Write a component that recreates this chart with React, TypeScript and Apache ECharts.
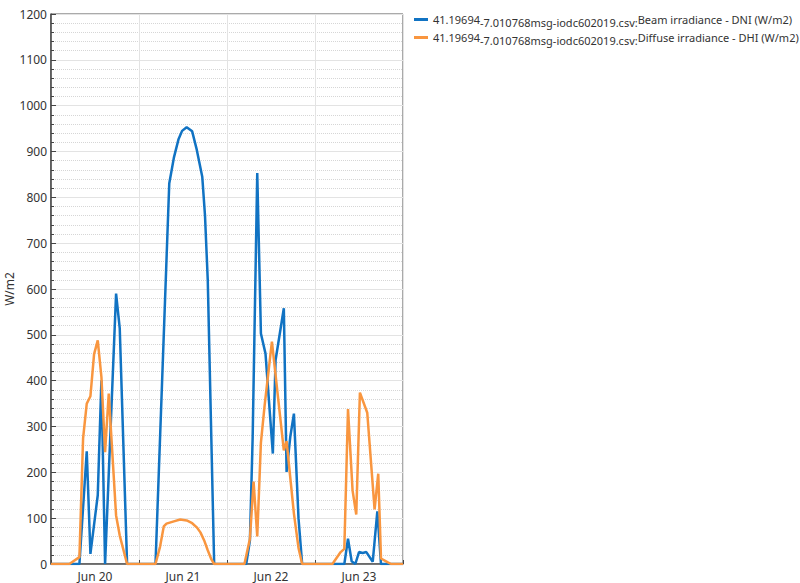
import React, { useEffect, useRef } from 'react';
import * as echarts from 'echarts';

// x values: hours since 20 Jun 00:00
const dayLabels = ['Jun 20', 'Jun 21', 'Jun 22', 'Jun 23'];

const dniTimes = [0, 7.75, 9.75, 10.75, 12.75, 13.75, 14.75, 17.75, 18.75, 20.75,
  28.5, 32.25, 33.5, 34.75, 35.75, 37, 38.5, 39.75, 41.25, 42, 42.75, 44.5,
  53.25, 54.25, 55, 56.25, 57.25, 58.5, 60.5, 61.25, 63.5, 64.25, 65.25, 66.25, 67.5, 68.5,
  80, 81, 82, 83, 84, 85, 86, 87.75, 89, 90, 96];
const dniValues = [0, 0, 246, 22, 150, 401, 0, 590, 514, 0,
  0, 830, 886, 926, 945, 953, 944, 904, 845, 760, 620, 0,
  0, 51, 277, 853, 503, 459, 241, 445, 558, 201, 277, 328, 100, 0,
  0, 55, 6, 0, 26, 24, 26, 5, 115, 0, 0];

const dhiTimes = [0, 5, 7.75, 8.75, 9.75, 10.75, 11.75, 12.75, 13.75, 14.75, 15.75, 17.75, 18.75, 20.75,
  28.5, 29.75, 30.75, 31.5, 33.5, 35.25, 37, 38.5, 39.75, 40.75, 41.75, 42.75, 43.75, 44.5,
  52.75, 54.25, 55.25, 56.25, 57.25, 58.25, 60.25, 63.5, 64.25, 66.25, 67.5, 68.5,
  76.75, 79, 80, 81, 82.25, 83.25, 84.25, 86.25, 88.25, 89.25, 90, 91.75, 92.75, 96];
const dhiValues = [0, 0, 15, 274, 350, 366, 458, 488, 408, 244, 372, 106, 62, 0,
  0, 38, 82, 88, 93, 97, 95, 89, 80, 69, 52, 30, 10, 0,
  0, 55, 180, 60, 265, 345, 485, 248, 268, 110, 35, 0,
  0, 26, 33, 338, 160, 108, 374, 330, 119, 197, 12, 4, 0, 0];

const sourcePrefix = '41.19694';
const sourceFile = '-7.010768msg-iodc602019.csv:';
const seriesLabels = ['Beam irradiance - DNI (W/m2)', 'Diffuse irradiance - DHI (W/m2)'];
const seriesNames = seriesLabels.map((l) => sourcePrefix + sourceFile + l);
const seriesColors = ['#1173c3', '#f9963f'];

const FONT = 'Noto Sans';

function zip(ts: number[], vs: number[]) {
  return ts.map((t, i) => [t, vs[i]]);
}

export default function App() {
  const ref = useRef<HTMLDivElement>(null);
  useEffect(() => {
    const chart = echarts.init(ref.current!, null, { renderer: 'svg' });
    const option: any = {
      animation: false,
      backgroundColor: '#fff',
      textStyle: { fontFamily: FONT },
      grid: {
        left: 51, top: 14, width: 352, height: 550,
        show: true, borderColor: '#555', borderWidth: 1, backgroundColor: 'transparent',
      },
      legend: {
        orient: 'vertical', left: 409, top: 6, itemWidth: 14, itemHeight: 3, itemGap: 1,
        icon: 'rect',
        data: seriesNames,
        formatter: (name: string) => {
          const i = seriesNames.indexOf(name);
          return `{a|${sourcePrefix}}{b|${sourceFile}}{a|${seriesLabels[i]}}`;
        },
        textStyle: {
          fontFamily: FONT,
          rich: {
            a: { fontFamily: FONT, fontSize: 11, lineHeight: 12, color: '#333', verticalAlign: 'middle' },
            b: { fontFamily: FONT, fontSize: 11, lineHeight: 12, color: '#333', padding: [6, 0, 0, 0], verticalAlign: 'middle' },
          },
        },
      },
      xAxis: [
        {
          type: 'value', min: 0, max: 96, interval: 12,
          axisLine: { show: true, lineStyle: { color: '#555', width: 1.5 } },
          axisTick: { show: false },
          splitLine: { show: false },
          axisLabel: {
            color: '#333', fontSize: 12, margin: 6, fontFamily: FONT,
            formatter: (v: number) => (v % 24 === 12 ? dayLabels[Math.floor(v / 24)] : ''),
          },
        },
        {
          type: 'value', min: 0, max: 96, interval: 24, position: 'bottom',
          axisLine: { show: false },
          axisLabel: { show: false },
          axisTick: { show: true, inside: true, length: 4, lineStyle: { color: '#444' } },
          splitLine: { show: true, lineStyle: { color: '#e3e3e3', width: 1 } },
        },
      ],
      yAxis: {
        type: 'value', min: 0, max: 1200, interval: 100,
        name: 'W/m2', nameLocation: 'middle', nameGap: 34,
        nameTextStyle: { color: '#333', fontSize: 12, fontFamily: FONT },
        axisLine: { show: true, lineStyle: { color: '#444', width: 1.5 } },
        axisTick: { show: true, inside: true, length: 5, lineStyle: { color: '#444' } },
        minorTick: { show: true, splitNumber: 5, length: 3, lineStyle: { color: '#444' } },
        axisLabel: {
          color: '#333', fontSize: 12, margin: 4, fontFamily: FONT,
          formatter: (v: number) => String(v),
        },
        splitLine: { show: true, lineStyle: { color: '#e3e3e3', width: 1 } },
        minorSplitLine: { show: true, lineStyle: { color: '#d6d6d6', type: 'dotted', width: 1 } },
      },
      series: [
        {
          name: seriesNames[0], type: 'line', xAxisIndex: 0, showSymbol: false,
          data: zip(dniTimes, dniValues),
          lineStyle: { color: seriesColors[0], width: 2.5 },
          itemStyle: { color: seriesColors[0] },
        },
        {
          name: seriesNames[1], type: 'line', xAxisIndex: 0, showSymbol: false,
          data: zip(dhiTimes, dhiValues),
          lineStyle: { color: seriesColors[1], width: 2.5 },
          itemStyle: { color: seriesColors[1] },
        },
      ],
    };
    chart.setOption(option);
    return () => chart.dispose();
  }, []);
  return (
    <div
      ref={ref}
      style={{ position: 'absolute', left: 0, top: 0, width: 800, height: 583, background: '#fff' }}
    />
  );
}
